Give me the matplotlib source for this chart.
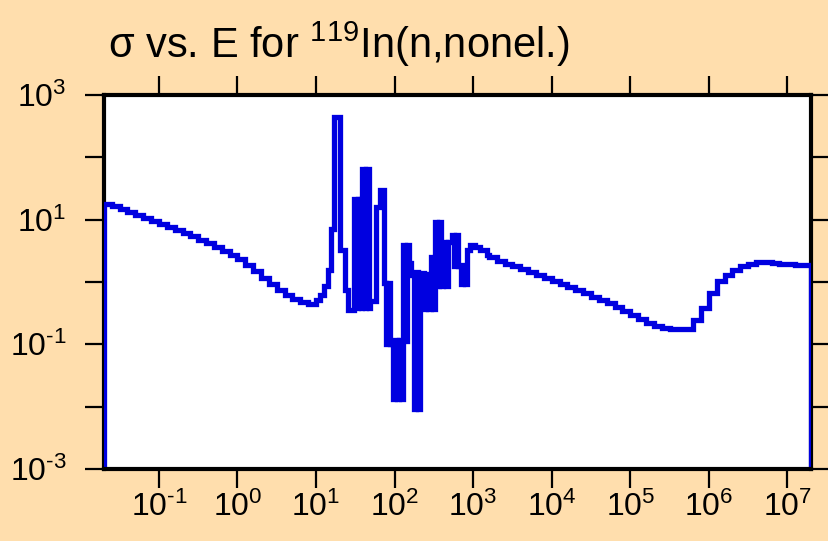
import matplotlib
matplotlib.use("Agg")
import matplotlib.pyplot as plt
from matplotlib.ticker import FixedLocator, FuncFormatter, NullLocator
import numpy as np

# ---- data (energy bin edges in eV, cross sections in barns) ----
low_edges = [0.02, 0.0251, 0.0316, 0.0398, 0.0501, 0.0631, 0.0794, 0.1, 0.126, 0.158,
             0.2, 0.251, 0.316, 0.398, 0.501, 0.631, 0.794, 1.0, 1.26, 1.58,
             2.0, 2.51, 3.16, 3.98, 5.01, 6.31, 7.94]
low_sigma = [18.0, 16.4, 14.8, 13.2, 11.8, 10.6, 9.6, 8.6, 7.7, 6.9,
             6.1, 5.4, 4.8, 4.2, 3.7, 3.2, 2.75, 2.35, 1.9, 1.5,
             1.16, 0.93, 0.75, 0.62, 0.53, 0.47, 0.44]

res_edges = [10.0, 11.3, 12.7, 14.3, 15.6, 17.1, 20.3, 23.5, 25.7, 30.6,
             33.4, 34.4, 37.6, 38.7, 42.2, 43.5, 47.4, 48.9, 58.2, 65.4,
             73.6, 78.0, 82.7, 87.7, 95.7, 101.4, 107.6, 114.0, 121.0, 128.2,
             135.9, 144.2, 152.8, 162.1, 177.0, 187.6, 198.8, 210.9, 237.0, 251.0,
             266.0, 290.5, 308.0, 326.6, 346.5, 367.0, 389.0, 413.0, 451.0, 478.0,
             537.0, 570.0, 604.0, 640.0, 699.0, 741.0, 786.0, 833.0, 909.0, 1052.0,
             1219.0, 1496.0]
res_sigma = [0.51, 0.62, 0.85, 1.56, 7.1, 436.0, 3.26, 0.74, 0.356, 21.4,
             0.383, 21.4, 0.383, 65.0, 0.383, 65.0, 0.38, 0.50, 16.0, 29.9,
             0.96, 0.101, 0.96, 0.101, 0.0133, 0.117, 0.0133, 0.117, 0.0133, 3.92,
             0.114, 3.92, 2.0, 1.29, 0.0092, 1.45, 0.0092, 1.4, 0.37, 1.34,
             0.37, 2.52, 0.37, 9.2, 0.86, 9.2, 0.86, 4.38, 0.86, 4.38,
             5.7, 1.81, 5.7, 1.81, 0.93, 1.87, 0.93, 3.26, 3.92, 3.64,
             3.26, 2.71]

high_edges = [1585, 1995, 2512, 3162, 3981, 5012, 6310, 7943, 1.0e4, 1.259e4,
              1.585e4, 1.995e4, 2.512e4, 3.162e4, 3.981e4, 5.012e4, 6.31e4, 7.943e4, 1.0e5, 1.259e5,
              1.585e5, 1.995e5, 2.512e5, 3.162e5, 3.981e5, 5.012e5, 6.31e5, 7.943e5, 1.0e6, 1.259e6,
              1.585e6, 1.995e6, 2.512e6, 3.162e6, 3.981e6, 5.012e6, 6.31e6, 7.943e6, 1.0e7, 1.259e7,
              1.585e7]
high_sigma = [2.52, 2.17, 1.98, 1.81, 1.62, 1.45, 1.29, 1.16, 1.04, 0.93,
              0.83, 0.74, 0.67, 0.585, 0.51, 0.46, 0.40, 0.34, 0.295, 0.255,
              0.22, 0.197, 0.183, 0.176, 0.174, 0.176, 0.245, 0.383, 0.67, 1.04,
              1.29, 1.56, 1.81, 1.98, 2.09, 2.09, 2.04, 1.98, 1.94, 1.90,
              1.87]
e_max = 2.0e7

x_ticks = [1e-1, 1e0, 1e1, 1e2, 1e3, 1e4, 1e5, 1e6, 1e7]
y_ticks = [1e-3, 1e-2, 1e-1, 1e0, 1e1, 1e2, 1e3]
y_labeled = [1e-3, 1e-1, 1e1, 1e3]
title_text = "\u03c3 vs. E for $\\mathregular{^{119}}$In(n,nonel.)"

# ---- style ----
BG = "#FFDEAD"
LINE = "#0000E0"
plt.rcParams["font.family"] = ["Liberation Sans", "DejaVu Sans"]
plt.rcParams["mathtext.fontset"] = "custom"
plt.rcParams["mathtext.rm"] = "Liberation Sans"
plt.rcParams["mathtext.it"] = "Liberation Sans:italic"
plt.rcParams["mathtext.bf"] = "Liberation Sans:bold"

fig = plt.figure(figsize=(8.29, 5.41), dpi=100, facecolor=BG)
ax = fig.add_axes([104 / 829, 72 / 541, 707 / 829, 374 / 541])
ax.set_facecolor("white")

edges = np.array(low_edges + res_edges + high_edges + [e_max])
sigma = np.array(low_sigma + res_sigma + high_sigma)
st = ax.stairs(sigma, edges, baseline=1e-6, color=LINE, linewidth=3.8, zorder=3)
st.set_joinstyle("miter")
st.set_capstyle("butt")

ax.set_xscale("log")
ax.set_yscale("log")
ax.set_xlim(0.02, e_max)
ax.set_ylim(1e-3, 1e3)

def fmt(v, pos):
    e = int(round(np.log10(v)))
    s = ("\\text{-}%d" % (-e)) if e < 0 else "%d" % e
    return "$\\mathregular{10^{%s}}$" % s

def yfmt(v, pos):
    if any(abs(np.log10(v) - np.log10(t)) < 1e-6 for t in y_labeled):
        return fmt(v, pos)
    return ""

ax.xaxis.set_major_locator(FixedLocator(x_ticks))
ax.yaxis.set_major_locator(FixedLocator(y_ticks))
ax.xaxis.set_minor_locator(NullLocator())
ax.yaxis.set_minor_locator(NullLocator())
ax.xaxis.set_major_formatter(FuncFormatter(fmt))
ax.yaxis.set_major_formatter(FuncFormatter(yfmt))

ax.tick_params(axis="both", which="major", direction="out", length=14, width=1.6,
               color="black", labelsize=23, top=True, right=True)
ax.tick_params(axis="x", pad=2)
ax.tick_params(axis="y", pad=13)
for name, sp in ax.spines.items():
    sp.set_linewidth(3)
    sp.set_color("black")
    sp.set_zorder(2.5 if name in ("left", "right") else 4)

fig.text(108 / 829, 1 - 58 / 541, title_text, fontsize=30, ha="left", va="baseline")

fig.savefig("out.png", dpi=100, facecolor=BG)
